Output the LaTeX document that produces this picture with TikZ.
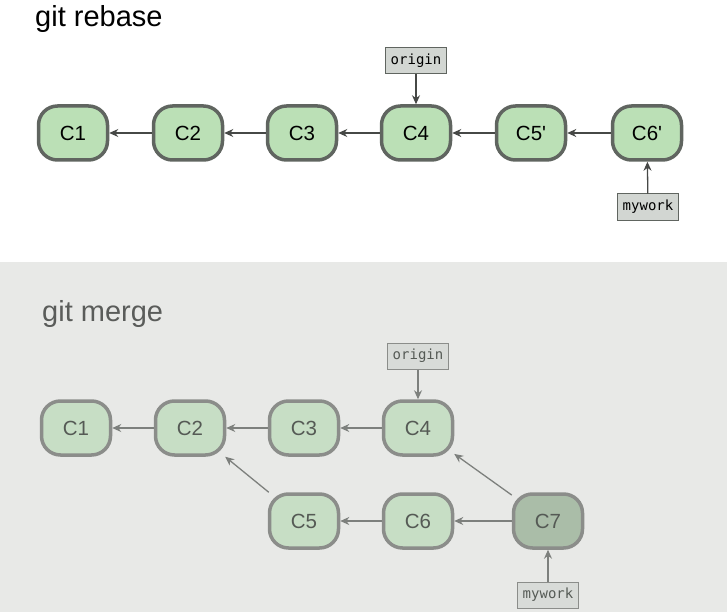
\documentclass[tikz,border=0pt]{standalone}
\usepackage{fontspec}
\setmainfont{Liberation Sans}
\newfontfamily\reffont{DejaVu Sans Mono}
\usetikzlibrary{arrows.meta}
\definecolor{commitfill}{RGB}{187,224,182}
\definecolor{commitline}{RGB}{96,101,96}
\definecolor{reffill}{RGB}{210,214,210}
\definecolor{mergebg}{RGB}{232,233,231}
\definecolor{oldfill}{RGB}{199,222,197}
\definecolor{oldline}{RGB}{139,141,138}
\definecolor{oldtext}{RGB}{85,90,85}
\definecolor{mergefill}{RGB}{170,189,168}
\definecolor{oldreffill}{RGB}{216,219,216}
\tikzset{
  commit/.style={draw=commitline, fill=commitfill, line width=3.5pt,
    rounded corners=19pt, minimum width=69pt, minimum height=54pt,
    inner sep=0pt, font=\fontsize{20.5}{20.5}\selectfont},
  oldcommit/.style={commit, draw=oldline, fill=oldfill, text=oldtext},
  refbox/.style={draw=commitline, fill=reffill, line width=1pt,
    minimum width=61pt, minimum height=26pt, inner sep=0pt,
    font=\reffont\fontsize{14}{14}\selectfont},
  oldref/.style={refbox, draw=oldline, fill=oldreffill, text=oldtext},
  title/.style={anchor=west, inner sep=0pt, font=\fontsize{29}{29}\selectfont},
  parent/.style={-{Stealth[length=9pt,width=8pt]}, line width=1.3pt},
}
\begin{document}
\begin{tikzpicture}[x=1pt,y=-1pt]
  \useasboundingbox (0,0) rectangle (727,612);
  \fill[mergebg] (0,262) rectangle (727,612);
  % rebase
  \node[title] (rebase) at (35,19) {git rebase};
  \draw
    (73,133) node[commit] (r1){C1}
    (188,133) node[commit] (r2){C2}
    (302,133) node[commit] (r3){C3}
    (416,133) node[commit] (r4){C4}
    (531,133) node[commit] (r5){C5\textquotesingle}
    (647,133) node[commit] (r6){C6\textquotesingle};
  \node[refbox] (rorigin) at (416,61) {origin};
  \node[refbox] (rmywork) at (648,207) {mywork};
  \begin{scope}[parent, draw={rgb,255:red,70;green,72;blue,70}]
    \draw (r2) to (r1);
    \draw (r3) to (r2);
    \draw (r4) to (r3);
    \draw (r5) to (r4);
    \draw (r6) to (r5);
    \draw (rorigin) to (r4);
    \draw (rmywork) to (r6);
  \end{scope}
  % merge
  \node[title, text={rgb,255:red,90;green,92;blue,90}] (merge) at (42,314) {git merge};
  \draw
    (76,428) node[oldcommit] (m1){C1}
    (190,428) node[oldcommit] (m2){C2}
    (304,428) node[oldcommit] (m3){C3}
    (418,428) node[oldcommit] (m4){C4}
    (304,521) node[oldcommit] (m5){C5}
    (418,521) node[oldcommit] (m6){C6}
    (548,521) node[oldcommit, fill=mergefill] (m7){C7};
  \node[oldref] (morigin) at (418,356) {origin};
  \node[oldref] (mmywork) at (548,595) {mywork};
  \begin{scope}[parent, draw={rgb,255:red,125;green,128;blue,125}]
    \draw (m2) to (m1);
    \draw (m3) to (m2);
    \draw (m4) to (m3);
    \draw (m5) to (m2);
    \draw (m6) to (m5);
    \draw (m7) to (m6);
    \draw (m7) to (m4);
    \draw (morigin) to (m4);
    \draw (mmywork) to (m7);
  \end{scope}
\end{tikzpicture}
\end{document}
